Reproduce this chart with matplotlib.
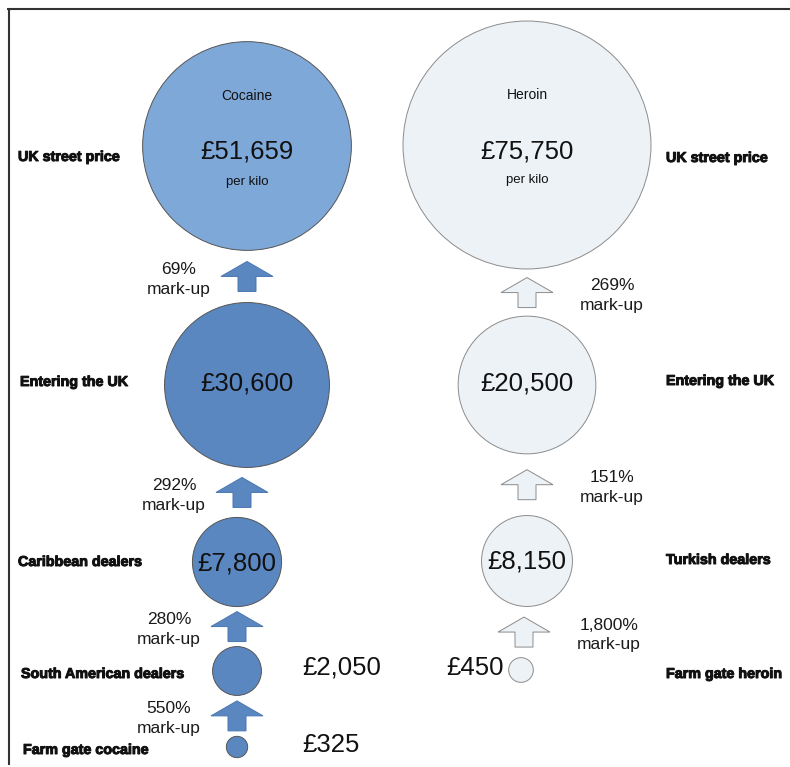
import numpy as np
import matplotlib
matplotlib.use("Agg")
import matplotlib.pyplot as plt
import matplotlib.patheffects as pe
from matplotlib.patches import Circle, FancyArrow

# data: price per kilo at each stage, bottom to top
coc_stages = ["Farm gate cocaine", "South American dealers", "Caribbean dealers",
              "Entering the UK", "UK street price"]
coc_price = [325, 2050, 7800, 30600, 51659]
coc_markup = ["550%", "280%", "292%", "69%"]

her_stages = ["Farm gate heroin", "Turkish dealers", "Entering the UK", "UK street price"]
her_price = [450, 8150, 20500, 75750]
her_markup = ["1,800%", "151%", "269%"]

# layout (pixels)
coc_x = [237, 237, 237, 247, 247]
coc_y = [747, 671, 562, 385, 146]
her_x = [521, 527, 527, 527]
her_y = [670, 561, 385, 145]

def radius(p):
    return 0.79 * p ** 0.45

fig = plt.figure(figsize=(7.9, 7.67), dpi=100)
ax = fig.add_axes([0, 0, 1, 1])
ax.set_xlim(0, 790)
ax.set_ylim(767, 0)
ax.axis("off")

# frame (top and left only)
ax.plot([7, 790], [8.5, 8.5], color="#333333", lw=1.5, solid_capstyle="butt")
ax.plot([8.5, 8.5], [8, 765], color="#333333", lw=1.5, solid_capstyle="butt")

sans = "Liberation Sans"

def money(p):
    return "£{:,}".format(p)

def draw_column(xs, ys, prices, markups, fills, edge, arrow_fc, arrow_ec, text_dx):
    rs = [radius(p) for p in prices]
    for x, y, r, fc in zip(xs, ys, rs, fills):
        ax.add_patch(Circle((x, y), r, facecolor=fc, edgecolor=edge, lw=0.7))
    for i, m in enumerate(markups):
        lower_top = ys[i] - rs[i]
        upper_bot = ys[i + 1] + rs[i + 1]
        mid = (lower_top + upper_bot) / 2
        ax_ = (xs[i] + xs[i + 1]) / 2
        ax.add_patch(FancyArrow(ax_, mid + 15, 0, -30, width=18, head_width=52,
                                head_length=15, length_includes_head=True,
                                facecolor=arrow_fc, edgecolor=arrow_ec, lw=0.7))
        ax.text(ax_ + text_dx, mid + 3, m + "\nmark-up", ha="center", va="center",
                fontsize=12.5, family=sans, color="#1a1a1a", linespacing=1.4)
    return rs

coc_fill = ["#5b87c1"] * 4 + ["#7ea8d8"]
draw_column(coc_x, coc_y, coc_price, coc_markup, coc_fill, "#555555",
            "#5b87c1", "#4a76b0", -68)
her_fill = ["#edf2f7"] * 4
draw_column(her_x, her_y, her_price, her_markup, her_fill, "#8c8c8c",
            "#edf2f7", "#8c8c8c", 85)

# price labels
big = dict(fontsize=18.5, family=sans, color="#111111", va="center")
ax.text(coc_x[4], 152, money(coc_price[4]), ha="center", **big)
ax.text(coc_x[3], 383, money(coc_price[3]), ha="center", **big)
ax.text(coc_x[2], 563, money(coc_price[2]), ha="center", **big)
ax.text(302, 667, money(coc_price[1]), ha="left", **big)
ax.text(302, 745, money(coc_price[0]), ha="left", **big)
ax.text(her_x[3], 152, money(her_price[3]), ha="center", **big)
ax.text(her_x[2], 383, money(her_price[2]), ha="center", **big)
ax.text(her_x[1], 561, money(her_price[1]), ha="center", **big)
ax.text(504, 668, money(her_price[0]), ha="right", **big)

small = dict(family=sans, color="#111111", ha="center", va="center")
ax.text(coc_x[4], 96, "Cocaine", fontsize=10, **small)
ax.text(coc_x[4], 182, "per kilo", fontsize=9.5, **small)
ax.text(her_x[3], 95, "Heroin", fontsize=10, **small)
ax.text(her_x[3], 180, "per kilo", fontsize=9.5, **small)

# stage labels
heavy = [pe.withStroke(linewidth=0.7, foreground="#111111")]
lab = dict(fontsize=10.3, family=sans, weight="bold", color="#111111", ha="left",
           va="center", path_effects=heavy)
coc_lab_x = [23, 21, 18, 20, 18]
coc_lab_y = [750, 674, 562, 382, 157]
for s, x, y in zip(coc_stages, coc_lab_x, coc_lab_y):
    ax.text(x, y, s, **lab)
her_lab_y = [674, 560, 381, 158]
for s, y in zip(her_stages, her_lab_y):
    ax.text(666, y, s, **lab)

fig.savefig("out.png", dpi=100)
